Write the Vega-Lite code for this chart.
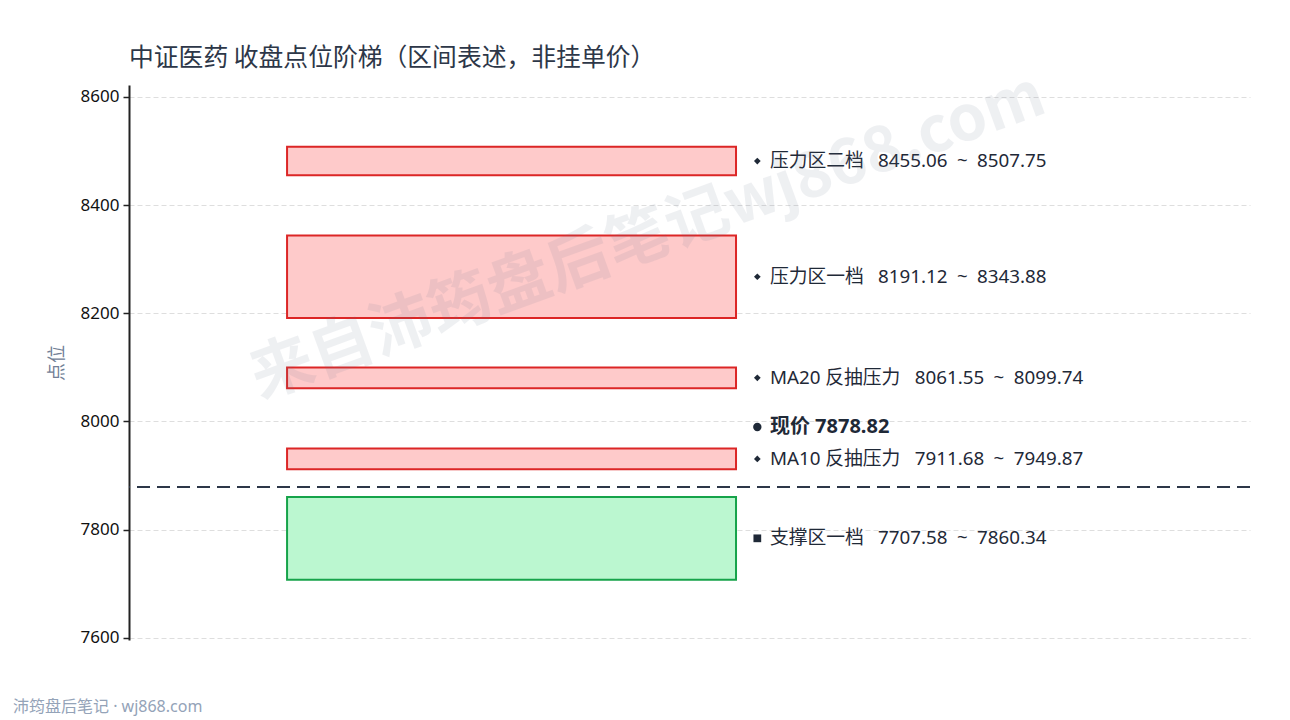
{
  "$schema": "https://vega.github.io/schema/vega-lite/v6.json",
  "width": 1121,
  "height": 555,
  "autosize": {"type": "none"},
  "padding": {"left": 129, "top": 85, "right": 40, "bottom": 80},
  "background": "white",
  "title": {
    "text": "中证医药 收盘点位阶梯（区间表述，非挂单价）",
    "anchor": "start",
    "frame": "group",
    "fontSize": 24.8,
    "fontWeight": "normal",
    "color": "#2d3748",
    "font": "Noto Sans CJK SC",
    "offset": -6
  },
  "config": {
    "view": {"stroke": null},
    "font": "Noto Sans CJK SC",
    "axis": {"labelFont": "Noto Sans", "titleFont": "Noto Sans CJK SC"}
  },
  "datasets": {
    "zones": [
      {"name": "压力区二档", "lo": 8455.06, "hi": 8507.75, "kind": "压力", "label": "压力区二档\u2002\u00a08455.06\u2002~\u20028507.75"},
      {"name": "压力区一档", "lo": 8191.12, "hi": 8343.88, "kind": "压力", "label": "压力区一档\u2002\u00a08191.12\u2002~\u20028343.88"},
      {"name": "MA20 反抽压力", "lo": 8061.55, "hi": 8099.74, "kind": "压力", "label": "MA20 反抽压力\u2002\u00a08061.55\u2002~\u20028099.74"},
      {"name": "MA10 反抽压力", "lo": 7911.68, "hi": 7949.87, "kind": "压力", "label": "MA10 反抽压力\u2002\u00a07911.68\u2002~\u20027949.87"},
      {"name": "支撑区一档", "lo": 7707.58, "hi": 7860.34, "kind": "支撑", "label": "支撑区一档\u2002\u00a07707.58\u2002~\u20027860.34"}
    ],
    "price": [
      {"price": 7878.82, "label": "现价 7878.82"}
    ]
  },
  "layer": [
    {
      "data": {"name": "zones"},
      "mark": {"type": "rect", "strokeWidth": 2},
      "encoding": {
        "x": {"datum": 0.141, "type": "quantitative", "scale": {"domain": [0, 1], "nice": false, "zero": false}, "axis": null},
        "x2": {"datum": 0.5415},
        "y": {
          "field": "lo", "type": "quantitative",
          "scale": {"domain": [7596, 8622], "nice": false, "zero": false},
          "axis": {
            "title": "点位",
            "titleColor": "#718096",
            "titleFontSize": 18,
            "titleFontWeight": "normal",
            "titlePadding": 14,
            "values": [7600, 7800, 8000, 8200, 8400, 8600],
            "format": "d",
            "labelFontSize": 17,
            "labelColor": "#111111",
            "labelPadding": 4,
            "domainColor": "#222222",
            "domainWidth": 2,
            "tickColor": "#222222",
            "tickSize": 6,
            "tickWidth": 1.5,
            "grid": true,
            "gridColor": "#dedede",
            "gridDash": [5, 3],
            "gridWidth": 1
          }
        },
        "y2": {"field": "hi"},
        "fill": {"field": "kind", "type": "nominal", "scale": {"domain": ["压力", "支撑"], "range": ["#fecaca", "#bbf7d0"]}, "legend": null},
        "stroke": {"field": "kind", "type": "nominal", "scale": {"domain": ["压力", "支撑"], "range": ["#dc2626", "#16a34a"]}, "legend": null}
      }
    },
    {
      "data": {"name": "price"},
      "mark": {"type": "rule", "color": "#2d3748", "strokeWidth": 2.2, "strokeDash": [13, 7]},
      "encoding": {
        "y": {"field": "price", "type": "quantitative"}
      }
    },
    {
      "data": {"name": "zones"},
      "transform": [{"fold": ["lo", "hi"], "as": ["bound", "v"]}],
      "mark": {"type": "point", "filled": true, "opacity": 1, "color": "#1f2937"},
      "encoding": {
        "x": {"datum": 0.5605, "type": "quantitative"},
        "y": {"field": "v", "aggregate": "mean", "type": "quantitative"},
        "detail": {"field": "name"},
        "shape": {"field": "kind", "type": "nominal", "scale": {"domain": ["压力", "支撑"], "range": ["diamond", "square"]}, "legend": null},
        "size": {"field": "kind", "type": "nominal", "scale": {"domain": ["压力", "支撑"], "range": [45, 60]}, "legend": null}
      }
    },
    {
      "data": {"name": "zones"},
      "transform": [{"fold": ["lo", "hi"], "as": ["bound", "v"]}],
      "mark": {"type": "text", "align": "left", "baseline": "middle", "fontSize": 18.8, "color": "#1f2937", "font": "Noto Sans, Noto Sans CJK SC"},
      "encoding": {
        "x": {"datum": 0.5717, "type": "quantitative"},
        "y": {"field": "v", "aggregate": "mean", "type": "quantitative"},
        "text": {"field": "label", "type": "nominal"}
      }
    },
    {
      "data": {"name": "price"},
      "mark": {"type": "point", "shape": "circle", "filled": true, "opacity": 1, "color": "#1f2937", "size": 70},
      "encoding": {
        "x": {"datum": 0.5605, "type": "quantitative"},
        "y": {"field": "price", "type": "quantitative"},
        "yOffset": {"value": -60}
      }
    },
    {
      "data": {"name": "price"},
      "mark": {"type": "text", "align": "left", "baseline": "middle", "fontSize": 20, "fontWeight": "bold", "color": "#1f2937", "dy": -60, "font": "Noto Sans, Noto Sans CJK SC"},
      "encoding": {
        "x": {"datum": 0.5717, "type": "quantitative"},
        "y": {"field": "price", "type": "quantitative"},
        "text": {"field": "label", "type": "nominal"}
      }
    },
    {
      "data": {"values": [{"t": "沛筠盘后笔记 · wj868.com"}]},
      "mark": {"type": "text", "align": "left", "baseline": "middle", "fontSize": 16, "color": "#94a3b8", "font": "Noto Sans, Noto Sans CJK SC"},
      "encoding": {
        "x": {"datum": -0.1035, "type": "quantitative"},
        "y": {"datum": 7472, "type": "quantitative"},
        "text": {"field": "t", "type": "nominal"}
      }
    },
    {
      "data": {"values": [{"t": "来自沛筠盘后笔记wj868.com"}]},
      "mark": {"type": "text", "align": "center", "baseline": "middle", "fontSize": 63, "fontWeight": "bold", "angle": -20, "color": "#64748b", "opacity": 0.1, "font": "Noto Sans CJK SC"},
      "encoding": {
        "x": {"datum": 0.463, "type": "quantitative"},
        "y": {"datum": 8340, "type": "quantitative"},
        "text": {"field": "t", "type": "nominal"}
      }
    }
  ]
}
